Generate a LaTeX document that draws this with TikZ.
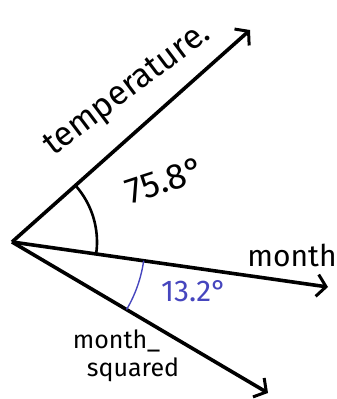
\documentclass[tikz,border=0pt]{standalone}
\usepackage{fontspec}
\setmainfont{Fira Sans}
\usetikzlibrary{arrows.meta,angles}
\definecolor{penblue}{RGB}{70,70,190}
\tikzset{
  vec/.style={line width=3.6pt, -{Straight Barb[length=9pt,width=22pt,line width=3pt]}},
  lbl/.style={font=\fontsize{28}{30}\selectfont, inner sep=0pt},
  smalllbl/.style={font=\fontsize{25}{26}\selectfont, inner sep=0pt, align=left}
}
\begin{document}
\begin{tikzpicture}[x=1pt,y=1pt]
\useasboundingbox (0,0) rectangle (337,399);
\coordinate (O) at (12,157);
\coordinate (T) at (250,369);
\coordinate (M) at (328,112);
\coordinate (S) at (268,6);
\draw[vec] (O) -- (T);
\draw[vec] (O) -- (M);
\draw[vec] (O) -- (S);
\pic[draw, line width=2.6pt, angle radius=85pt] {angle=M--O--T};
\pic[draw=penblue, line width=1.4pt, angle radius=133pt] {angle=S--O--M};
\node[lbl, rotate=37, font=\fontsize{34}{36}\selectfont] (tl) at (128,308) {temperature.};
\node[lbl, rotate=18, font=\fontsize{36}{38}\selectfont] (al) at (165,219) {75.8°};
\node[lbl, font=\fontsize{30}{32}\selectfont] (ml) at (292,144) {month};
\node[lbl, text=penblue, font=\fontsize{30}{32}\selectfont] (bl) at (194,108) {13.2°};
\node[smalllbl] (sl) at (126,43) {month\_\\[2pt]\hspace*{14pt}squared};
\end{tikzpicture}
\end{document}
